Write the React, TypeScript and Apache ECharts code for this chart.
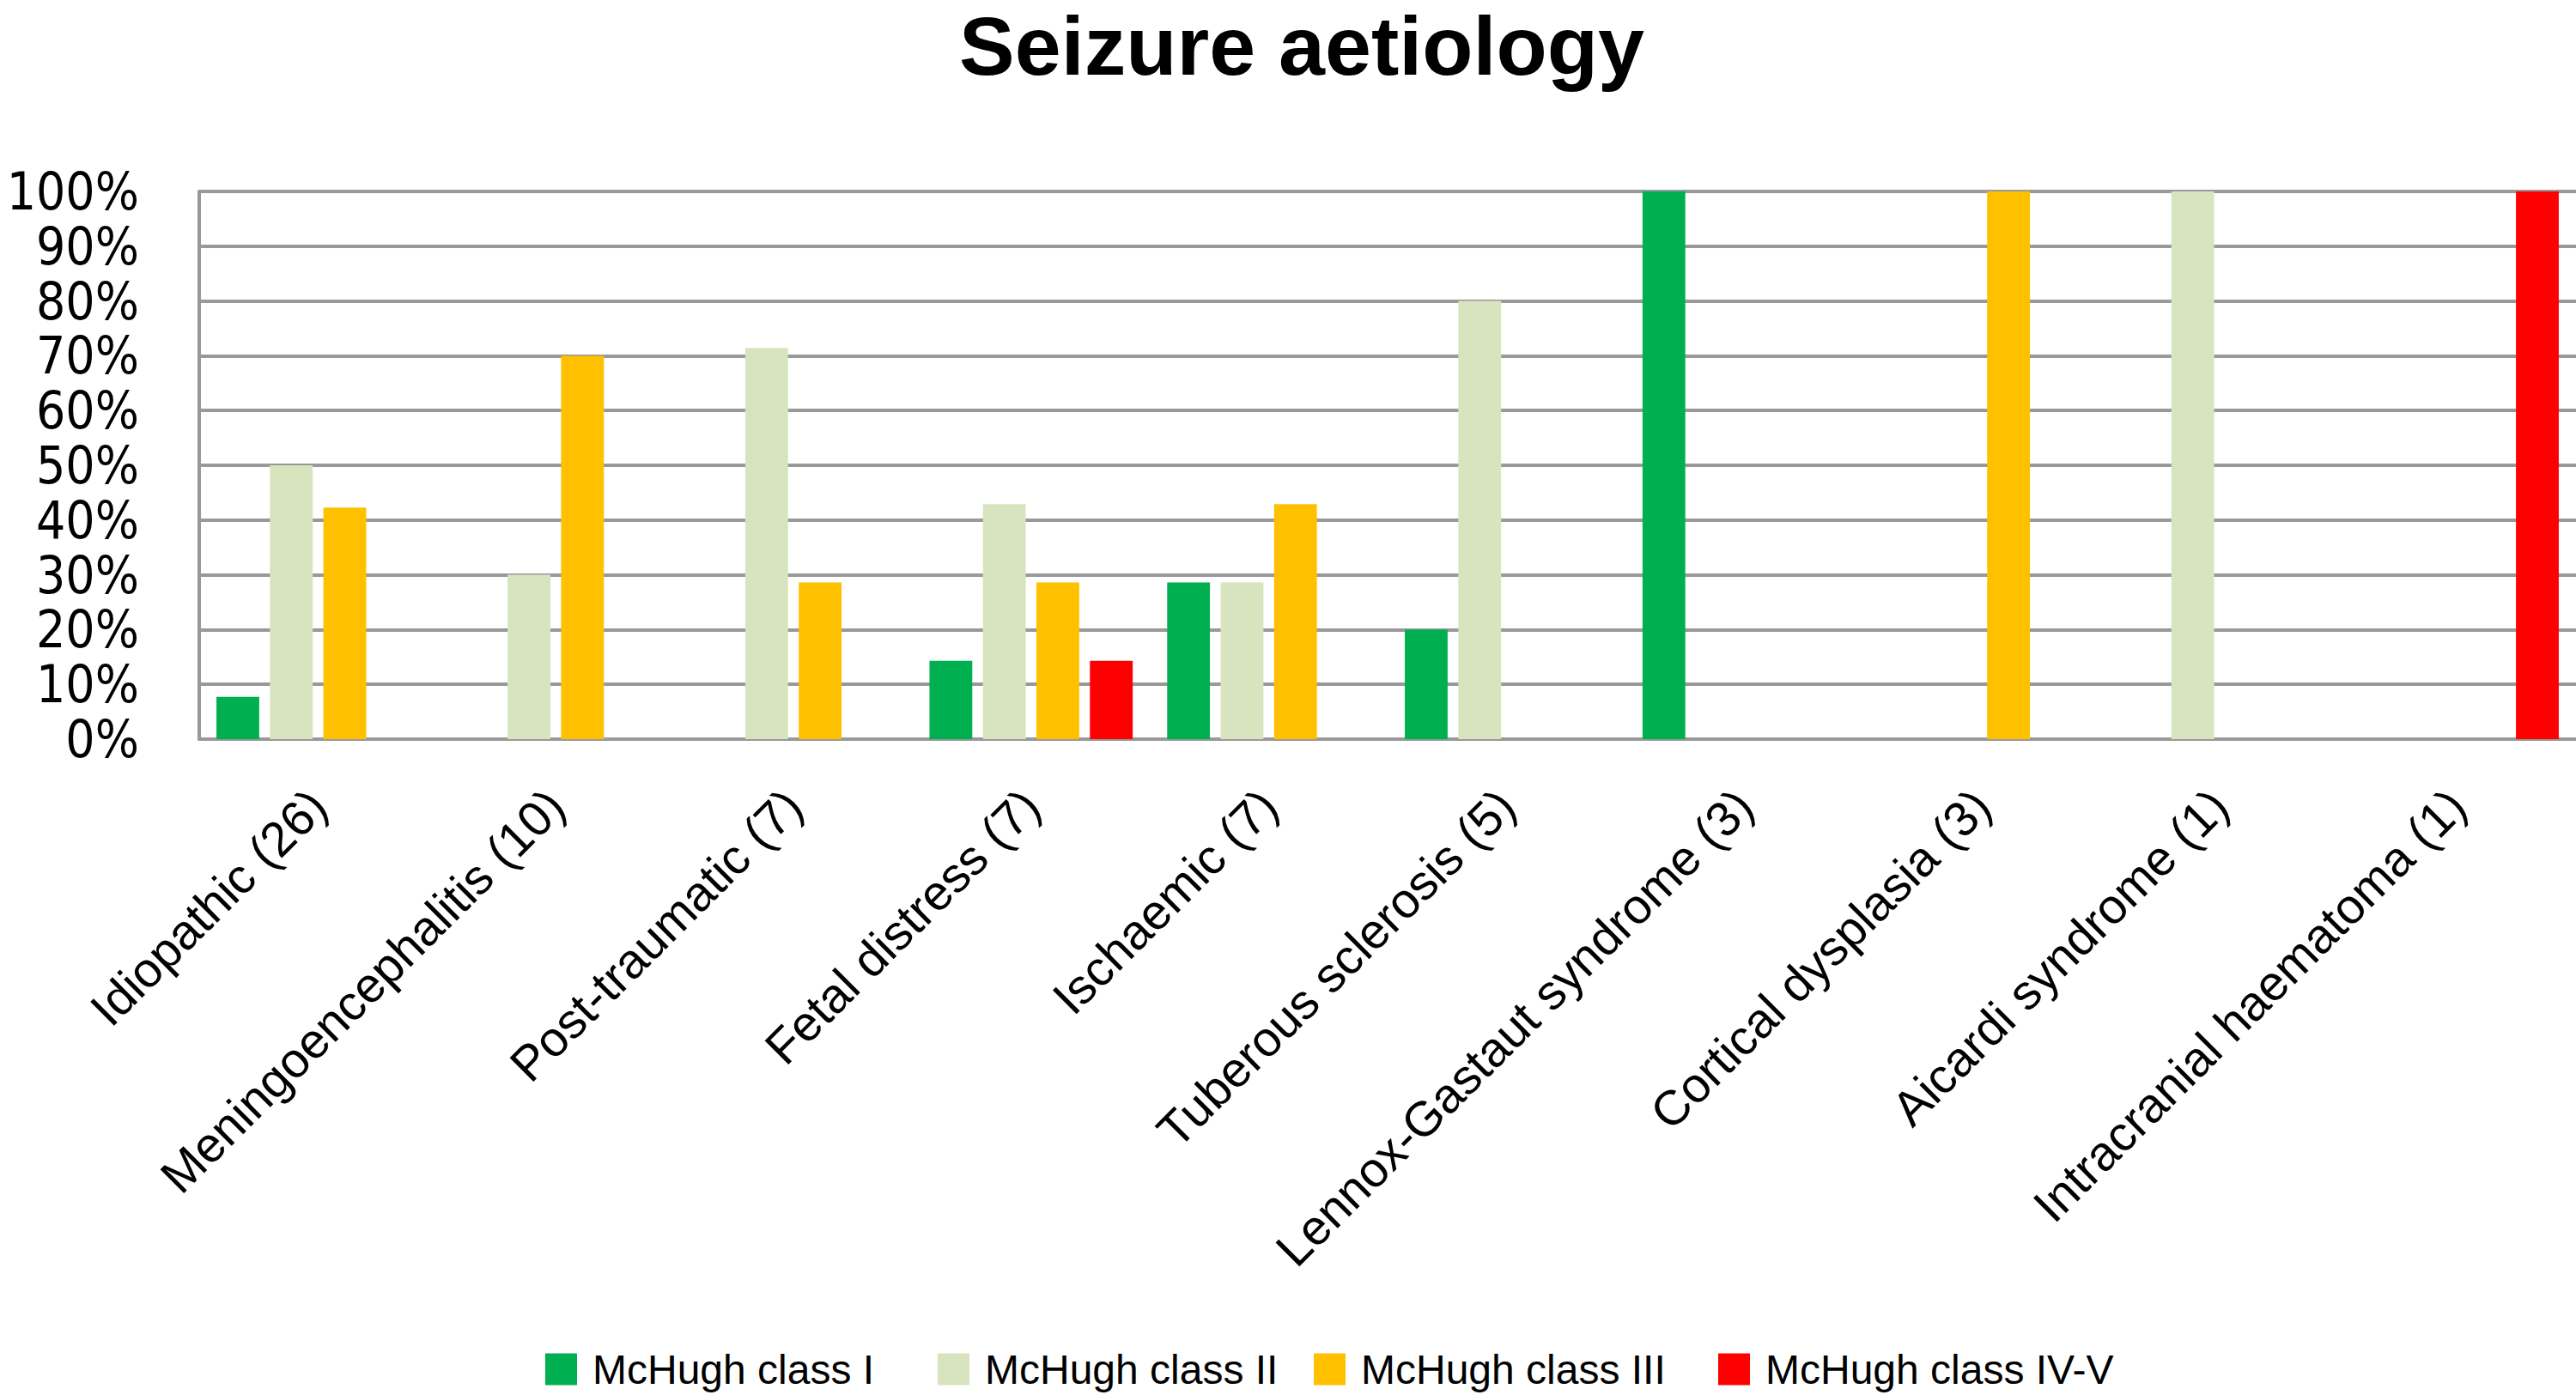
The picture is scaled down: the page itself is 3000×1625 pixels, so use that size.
import React, { useEffect, useRef } from "react";
import * as echarts from "echarts";

const categories = [
  "Idiopathic (26)",
  "Meningoencephalitis (10)",
  "Post-traumatic (7)",
  "Fetal distress (7)",
  "Ischaemic (7)",
  "Tuberous sclerosis (5)",
  "Lennox-Gastaut syndrome (3)",
  "Cortical dysplasia (3)",
  "Aicardi syndrome (1)",
  "Intracranial haematoma (1)",
];

const seriesNames = ["McHugh class I", "McHugh class II", "McHugh class III", "McHugh class IV-V"];
const seriesColors = ["#00B050", "#D7E4BD", "#FFC000", "#FF0000"];

const classI = [7.7, 0, 0, 14.3, 28.6, 20, 100, 0, 0, 0];
const classII = [50, 30, 71.4, 42.9, 28.6, 80, 0, 0, 100, 0];
const classIII = [42.3, 70, 28.6, 28.6, 42.9, 0, 0, 100, 0, 0];
const classIVV = [0, 0, 0, 14.3, 0, 0, 0, 0, 0, 100];

const yTicks = [0, 10, 20, 30, 40, 50, 60, 70, 80, 90, 100];

const legendLefts = [630, 1087, 1525, 1996];

export default function App() {
  const ref = useRef<HTMLDivElement>(null);

  useEffect(() => {
    if (!ref.current) return;
    const chart = echarts.init(ref.current, null, { renderer: "svg" });
    const allData = [classI, classII, classIII, classIVV];
    const option = {
      animation: false,
      backgroundColor: "#ffffff",
      title: {
        text: "Seizure aetiology",
        left: 1511,
        textAlign: "center",
        top: 0,
        textStyle: {
          fontFamily: "Liberation Sans, Arial, sans-serif",
          fontWeight: "bold",
          fontSize: 97,
          color: "#000000",
        },
      },
      legend: seriesNames.map((name, i) => ({
        data: [name],
        left: legendLefts[i],
        top: 1566,
        itemWidth: 37,
        itemHeight: 37,
        icon: "rect",
        selectedMode: false,
        textStyle: {
          fontFamily: "Liberation Sans, Arial, sans-serif",
          fontSize: 48,
          color: "#000000",
          padding: [0, 0, 0, 13],
        },
      })),
      grid: {
        left: 232,
        right: -7,
        top: 223,
        bottom: 764,
      },
      xAxis: {
        type: "category",
        data: categories,
        axisLine: { show: true, lineStyle: { color: "#999999", width: 4 } },
        axisTick: { show: false },
        axisLabel: {
          interval: 0,
          rotate: 45,
          margin: 68,
          fontFamily: "Liberation Sans, Arial, sans-serif",
          fontSize: 57,
          color: "#000000",
        },
      },
      yAxis: {
        type: "value",
        min: yTicks[0],
        max: yTicks[yTicks.length - 1],
        interval: 10,
        axisLine: { show: true, lineStyle: { color: "#999999", width: 4 } },
        axisTick: { show: false },
        splitLine: { show: true, lineStyle: { color: "#999999", width: 4 } },
        axisLabel: {
          formatter: "{value}%",
          margin: 70,
          fontFamily: "DejaVu Sans Condensed, DejaVu Sans, sans-serif",
          fontSize: 60,
          lineHeight: 58,
          color: "#000000",
        },
      },
      series: seriesNames.map((name, i) => ({
        name,
        type: "bar",
        data: allData[i],
        barWidth: "18%",
        barGap: "25%",
        itemStyle: { color: seriesColors[i] },
      })),
    };
    chart.setOption(option as any);
    return () => chart.dispose();
  }, []);

  return (
    <div
      ref={ref}
      style={{ position: "absolute", left: 0, top: 0, width: 3000, height: 1625, background: "#fff" }}
    />
  );
}
